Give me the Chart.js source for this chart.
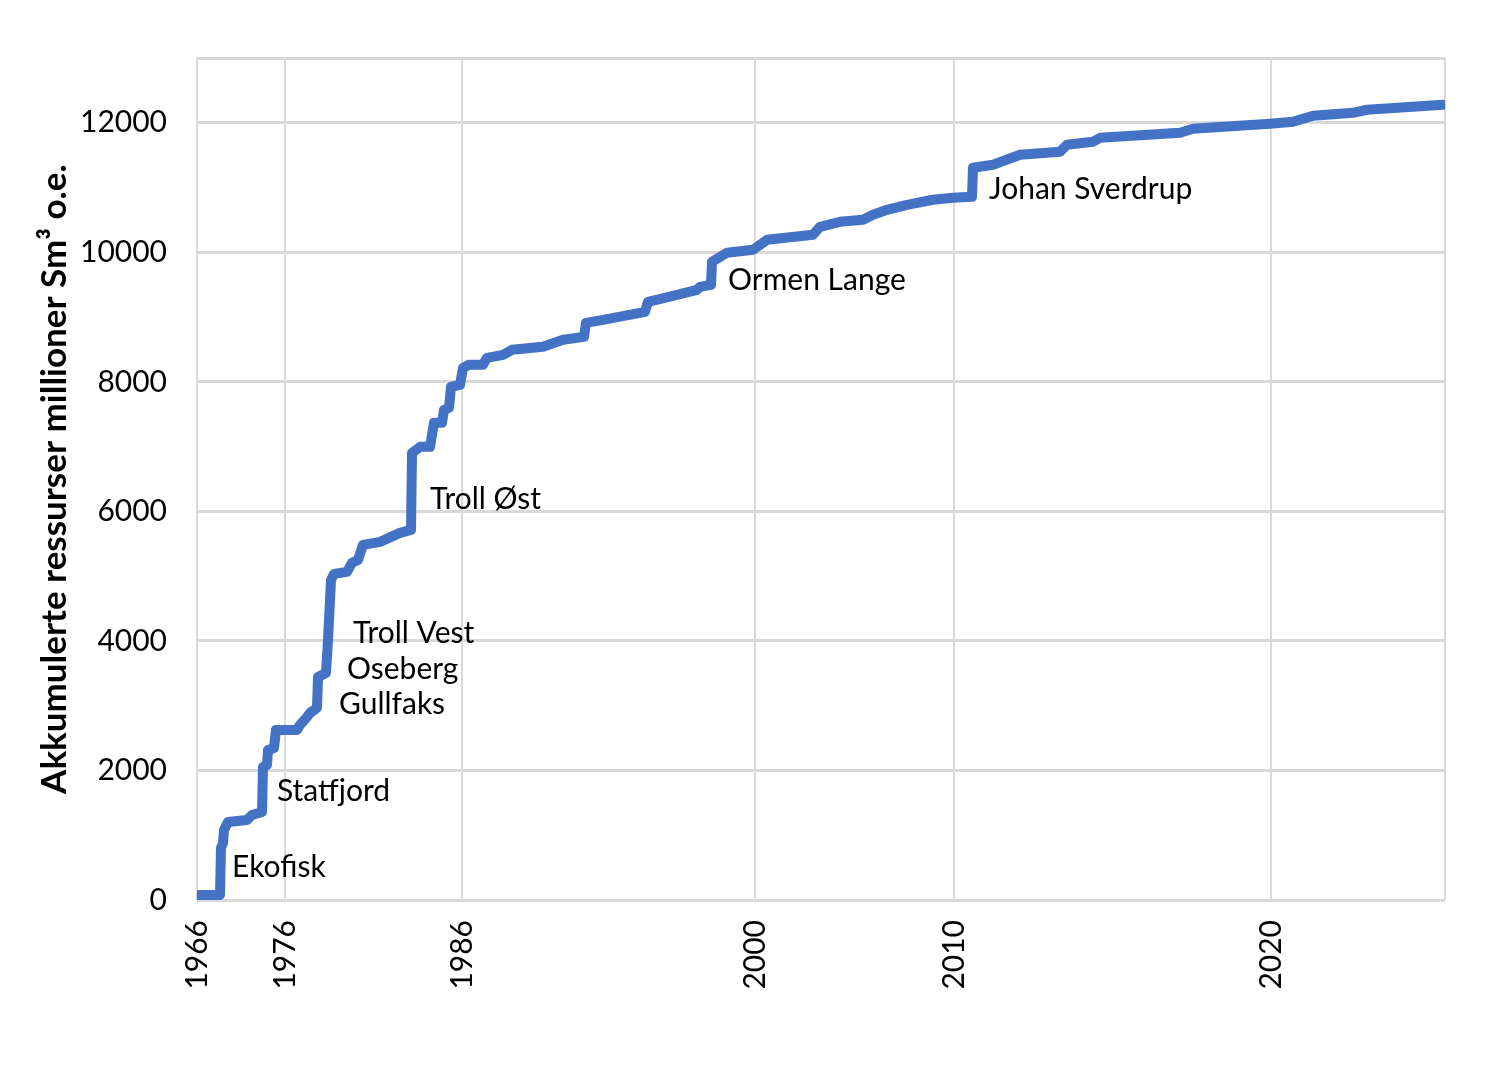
<!DOCTYPE html>
<html lang="no">
<head>
<meta charset="utf-8">
<title>Akkumulerte ressurser</title>
<script src="https://cdn.jsdelivr.net/npm/chart.js@4.4.1/dist/chart.umd.min.js"></script>
<style>
  html, body { margin: 0; padding: 0; background: #fff; }
  #wrap { width: 1491px; height: 1080px; }
</style>
</head>
<body>
<div id="wrap"><canvas id="chart" width="1491" height="1080"></canvas></div>
<script>
"use strict";

// funn i rekkefølge (x) og akkumulerte ressurser i millioner Sm3 o.e. (y)
const funnNr = [
    0, 2, 23, 24, 26, 27, 31, 50, 55, 65,
    66, 70, 71, 77, 79, 100, 103, 110, 113, 120,
    121, 129, 131, 133, 134, 137, 150, 155, 161, 166,
    183, 203, 214, 215, 223, 233, 237, 245, 247, 252,
    254, 263, 266, 272, 286, 290, 306, 315, 346, 366,
    387, 389, 406, 448, 451, 476, 500, 503, 514, 515,
    530, 556, 570, 616, 623, 643, 666, 676, 690, 710,
    736, 756, 775, 776, 796, 823, 863, 870, 896, 903,
    983, 996, 1073, 1096, 1116, 1156, 1170, 1246
];
const akkumulert = [
    0, 77, 77, 803, 880, 1081, 1205, 1236, 1313, 1359,
    2054, 2085, 2317, 2347, 2626, 2626, 2703, 2826, 2888, 2965,
    3444, 3506, 4015, 4633, 4942, 5035, 5066, 5205, 5251, 5483,
    5529, 5668, 5714, 6903, 6996, 6996, 7367, 7367, 7568, 7599,
    7923, 7954, 8216, 8263, 8263, 8371, 8417, 8494, 8541, 8649,
    8695, 8911, 8958, 9081, 9236, 9328, 9421, 9467, 9498, 9853,
    9992, 10039, 10193, 10270, 10394, 10471, 10502, 10579, 10656, 10733,
    10811, 10842, 10857, 11305, 11351, 11506, 11552, 11660, 11707, 11768,
    11845, 11907, 11985, 12015, 12108, 12154, 12201, 12278
];

// årstall langs x-aksen og funnet de står ved
const aarEtiketter = ['1966', '1976', '1986', '2000', '2010', '2020'];
const aarFunnNr = [0, 88, 265, 558, 757, 1074];
const sisteFunnNr = 1248;

// y-aksen
const yTicks = [0, 2000, 4000, 6000, 8000, 10000, 12000];
const yMaks = 13000;

// store funn som er navngitt i figuren
const feltNavn = ['Ekofisk', 'Statfjord', 'Troll Vest', 'Oseberg', 'Gullfaks', 'Troll Øst', 'Ormen Lange', 'Johan Sverdrup'];
const feltFunnNr = [35, 80, 156, 150, 142, 233, 531, 792];
const feltNivaa = [355, 1529, 3969, 3413, 2873, 6039, 9421, 10826];

const fontFamily = "Lato, 'Open Sans', sans-serif";

// skriver feltnavnene inn i plottet
const feltEtiketter = {
    id: 'feltEtiketter',
    afterDatasetsDraw(chart) {
        const ctx = chart.ctx;
        const xs = chart.scales.x;
        const ys = chart.scales.y;
        ctx.save();
        ctx.font = '30px ' + fontFamily;
        ctx.fillStyle = '#000';
        ctx.textAlign = 'left';
        ctx.textBaseline = 'alphabetic';
        feltNavn.forEach((navn, i) => {
            ctx.fillText(navn, xs.getPixelForValue(feltFunnNr[i]), ys.getPixelForValue(feltNivaa[i]));
        });
        ctx.restore();
    }
};

new Chart(document.getElementById('chart'), {
    type: 'line',
    data: {
        datasets: [{
            data: funnNr.map((x, i) => ({ x: x, y: akkumulert[i] })),
            borderColor: '#4472C4',
            borderWidth: 10,
            borderCapStyle: 'round',
            borderJoinStyle: 'round',
            pointRadius: 0,
            tension: 0,
            fill: false
        }]
    },
    options: {
        responsive: false,
        animation: false,
        layout: {
            padding: { top: 58, right: 46, left: 0, bottom: 0 }
        },
        plugins: {
            legend: { display: false },
            tooltip: { enabled: false }
        },
        scales: {
            x: {
                type: 'linear',
                min: 0,
                max: sisteFunnNr,
                afterBuildTicks(scale) {
                    scale.ticks = aarFunnNr.concat([sisteFunnNr]).map(v => ({ value: v }));
                },
                afterFit(scale) {
                    scale.height = 180;
                    scale.paddingLeft = 0;
                    scale.paddingRight = 0;
                },
                ticks: {
                    autoSkip: false,
                    maxRotation: 90,
                    minRotation: 90,
                    padding: 20,
                    color: '#000',
                    font: { family: fontFamily, size: 30 },
                    callback: (value, index) => aarEtiketter[index] || ''
                },
                grid: {
                    color: '#d9d9d9',
                    lineWidth: 2,
                    drawTicks: false
                },
                border: { display: false }
            },
            y: {
                min: 0,
                max: yMaks,
                afterBuildTicks(scale) {
                    scale.ticks = yTicks.concat([yMaks]).map(v => ({ value: v }));
                },
                afterFit(scale) {
                    scale.width = 197;
                },
                ticks: {
                    padding: 30,
                    color: '#000',
                    font: { family: fontFamily, size: 30 },
                    callback: value => (yTicks.includes(value) ? String(value) : '')
                },
                grid: {
                    color: '#d9d9d9',
                    lineWidth: 3,
                    drawTicks: false
                },
                border: { display: false },
                title: {
                    display: true,
                    text: 'Akkumulerte ressurser millioner Sm³ o.e.',
                    color: '#000',
                    font: { family: fontFamily, size: 35, weight: 'bold' },
                    padding: { top: 34, bottom: 0 }
                }
            }
        }
    },
    plugins: [feltEtiketter]
});
</script>
</body>
</html>
